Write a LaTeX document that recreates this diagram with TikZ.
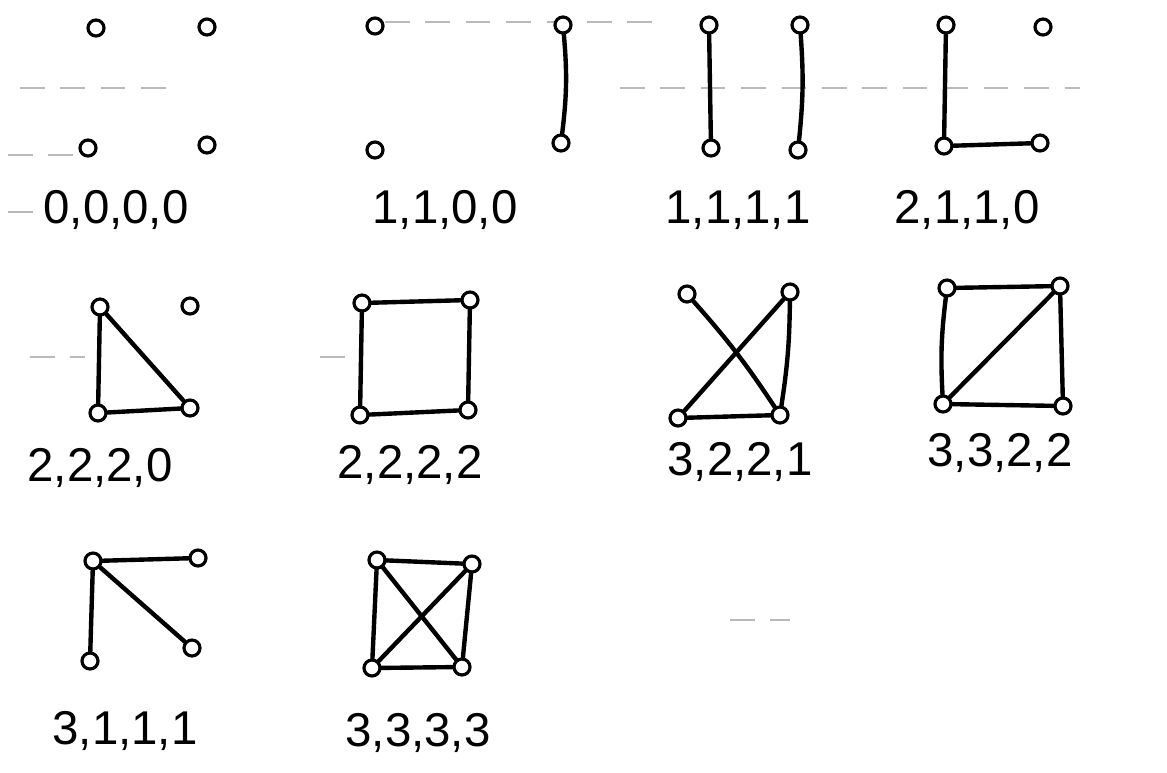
\documentclass[tikz,border=0pt]{standalone}
\usepackage{fontspec}
\setmainfont{Liberation Sans}
\usetikzlibrary{positioning}

\begin{document}
\begin{tikzpicture}[x=0.02cm, y=-0.02cm,
        vertex/.style={circle, draw=black, line width=1.8pt, fill=white, minimum size=0.32cm, inner sep=0pt},
        edge/.style={line width=2.5pt, line cap=round},
        degseq/.style={font=\fontsize{27}{31}\selectfont},
        rule/.style={gray!55, line width=0.6pt, dash pattern=on 14pt off 9pt}
    ]
        \useasboundingbox[fill=white] (0,0) rectangle (1167,772);

        % faint notebook lines
        \draw[rule] (20,88) -- (170,88);
        \draw[rule] (620,88) -- (1080,88);
        \draw[rule] (385,22) -- (660,22);
        \draw[rule] (8,155) -- (75,155);
        \draw[rule] (8,212) -- (35,212);
        \draw[rule] (30,357) -- (85,357);
        \draw[rule] (320,357) -- (355,357);
        \draw[rule] (730,620) -- (790,620);

        % row 1
        \node[vertex] (g1a) at (96,28) {};
        \node[vertex] (g1b) at (207,27) {};
        \node[vertex] (g1c) at (88,148) {};
        \node[vertex] (g1d) at (207,145) {};
        \node[degseq] (s1) at (116,210) {0,0,0,0};

        \node[vertex] (g2a) at (375,26) {};
        \node[vertex] (g2b) at (563,25) {};
        \node[vertex] (g2c) at (375,150) {};
        \node[vertex] (g2d) at (561,143) {};
        \node[degseq] (s2) at (445,210) {1,1,0,0};
        \draw[edge] (g2b) to[bend left=6] (g2d);

        \node[vertex] (g3a) at (709,25) {};
        \node[vertex] (g3b) at (711,148) {};
        \node[vertex] (g3c) at (800,25) {};
        \node[vertex] (g3d) at (798,150) {};
        \node[degseq] (s3) at (738,210) {1,1,1,1};
        \draw[edge] (g3a) -- (g3b);
        \draw[edge] (g3c) to[bend left=5] (g3d);

        \node[vertex] (g4a) at (946,25) {};
        \node[vertex] (g4b) at (1043,27) {};
        \node[vertex] (g4c) at (944,146) {};
        \node[vertex] (g4d) at (1040,143) {};
        \node[degseq] (s4) at (967,210) {2,1,1,0};
        \draw[edge] (g4a) -- (g4c);
        \draw[edge] (g4c) -- (g4d);

        % row 2
        \node[vertex] (g5a) at (100,307) {};
        \node[vertex] (g5b) at (190,306) {};
        \node[vertex] (g5c) at (98,413) {};
        \node[vertex] (g5d) at (190,408) {};
        \node[degseq] (s5) at (100,468) {2,2,2,0};
        \draw[edge] (g5a) -- (g5c);
        \draw[edge] (g5c) -- (g5d);
        \draw[edge] (g5a) -- (g5d);

        \node[vertex] (g6a) at (362,303) {};
        \node[vertex] (g6b) at (470,300) {};
        \node[vertex] (g6c) at (360,415) {};
        \node[vertex] (g6d) at (468,410) {};
        \node[degseq] (s6) at (410,465) {2,2,2,2};
        \draw[edge] (g6a) -- (g6b) -- (g6d) -- (g6c) -- (g6a);

        \node[vertex] (g7a) at (687,294) {};
        \node[vertex] (g7b) at (790,292) {};
        \node[vertex] (g7c) at (678,418) {};
        \node[vertex] (g7d) at (780,415) {};
        \node[degseq] (s7) at (740,462) {3,2,2,1};
        \draw[edge] (g7a) to[bend left=4] (g7d);
        \draw[edge] (g7c) -- (g7b);
        \draw[edge] (g7c) -- (g7d);
        \draw[edge] (g7d) to[bend right=4] (g7b);

        \node[vertex] (g8a) at (947,288) {};
        \node[vertex] (g8b) at (1060,286) {};
        \node[vertex] (g8c) at (943,404) {};
        \node[vertex] (g8d) at (1063,406) {};
        \node[degseq] (s8) at (1000,453) {3,3,2,2};
        \draw[edge] (g8a) -- (g8b) -- (g8d) -- (g8c);
        \draw[edge] (g8c) to[bend left=5] (g8a);
        \draw[edge] (g8c) -- (g8b);

        % row 3
        \node[vertex] (g9a) at (93,561) {};
        \node[vertex] (g9b) at (198,558) {};
        \node[vertex] (g9c) at (90,661) {};
        \node[vertex] (g9d) at (192,648) {};
        \node[degseq] (s9) at (125,731) {3,1,1,1};
        \draw[edge] (g9a) -- (g9b);
        \draw[edge] (g9a) -- (g9c);
        \draw[edge] (g9a) -- (g9d);

        \node[vertex] (g10a) at (377,560) {};
        \node[vertex] (g10b) at (472,564) {};
        \node[vertex] (g10c) at (372,668) {};
        \node[vertex] (g10d) at (462,667) {};
        \node[degseq] (s10) at (418,733) {3,3,3,3};
        \draw[edge] (g10a) -- (g10b) -- (g10d) -- (g10c) -- (g10a);
        \draw[edge] (g10a) -- (g10d);
        \draw[edge] (g10c) -- (g10b);
    \end{tikzpicture}
\end{document}
